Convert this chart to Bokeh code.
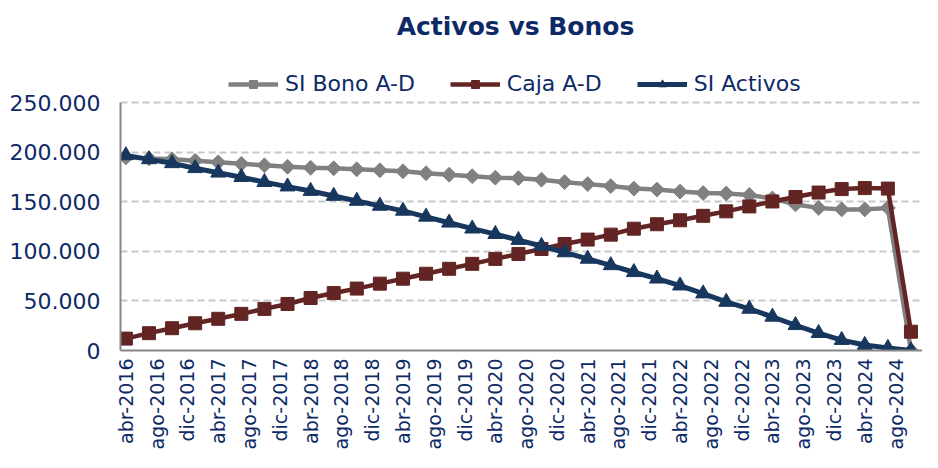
import math
from bokeh.plotting import figure
from bokeh.models import Range1d, FixedTicker, Legend, LegendItem, Label
from bokeh.embed import file_html
from bokeh.resources import INLINE

# ---------------- data ----------------
periodos = ["abr-2016", "jul-2016", "oct-2016",
            "ene-2017", "abr-2017", "jul-2017", "oct-2017",
            "ene-2018", "abr-2018", "jul-2018", "oct-2018",
            "ene-2019", "abr-2019", "jul-2019", "oct-2019",
            "ene-2020", "abr-2020", "jul-2020", "oct-2020",
            "ene-2021", "abr-2021", "jul-2021", "oct-2021",
            "ene-2022", "abr-2022", "jul-2022", "oct-2022",
            "ene-2023", "abr-2023", "jul-2023", "oct-2023",
            "ene-2024", "abr-2024", "jul-2024", "oct-2024"]

si_bono = [195000, 194000, 193000, 191500, 190000, 188500, 187000, 185500,
           184500, 184000, 183000, 182000, 181000, 179000, 177500, 176000,
           174500, 174000, 172500, 170000, 168000, 166000, 163500, 162500,
           160500, 159000, 158500, 157000, 153500, 147500, 144000, 142500,
           142500, 144000, 0]

caja = [12000, 17500, 22500, 27500, 32000, 37000, 42000, 47000,
        53000, 58000, 62500, 67500, 72500, 77500, 82500, 87500,
        92500, 97500, 102500, 107500, 112000, 117000, 123000, 127500,
        131500, 136000, 140500, 145500, 150500, 155000, 159500, 163000,
        164000, 163500, 19000]

si_activos = [197000, 193000, 189000, 184000, 179500, 175000, 170000, 165500,
              161000, 156000, 151000, 146000, 141000, 135000, 129000, 123000,
              117500, 111500, 105500, 99000, 92500, 86000, 79000, 72500,
              65500, 57500, 49000, 42000, 34000, 25500, 17500, 10500,
              5500, 2500, 0]

x_tick_labels = ["abr-2016", "ago-2016", "dic-2016", "abr-2017", "ago-2017",
                 "dic-2017", "abr-2018", "ago-2018", "dic-2018", "abr-2019",
                 "ago-2019", "dic-2019", "abr-2020", "ago-2020", "dic-2020",
                 "abr-2021", "ago-2021", "dic-2021", "abr-2022", "ago-2022",
                 "dic-2022", "abr-2023", "ago-2023", "dic-2023", "abr-2024",
                 "ago-2024"]

y_ticks = [0, 50000, 100000, 150000, 200000, 250000]
y_tick_labels = ["0", "50.000", "100.000", "150.000", "200.000", "250.000"]

series_names = ["SI Bono A-D", "Caja A-D", "SI Activos"]
chart_title = "Activos vs Bonos"

# ---------------- helpers ----------------
MESES = {"ene": 1, "feb": 2, "mar": 3, "abr": 4, "may": 5, "jun": 6,
         "jul": 7, "ago": 8, "sep": 9, "oct": 10, "nov": 11, "dic": 12}


def month_index(label):
    m, y = label.split("-")
    return (int(y) - 2016) * 12 + MESES[m] - 4


x = [month_index(s) for s in periodos]
x_ticks = [month_index(s) for s in x_tick_labels]

NAVY_TXT = "#0E2A66"
FONT = "DejaVu Sans"
GRAY = "#808080"
MAROON = "#632523"
NAVY = "#17375E"

# layout: frame spans from the top of the figure down to the x axis; the
# value area (0..250.000) occupies the lower 249 px of its 352 px.
FRAME_H = 352
PLOT_H = 249
Y_MAX = y_ticks[-1]
Y_TOP = Y_MAX * FRAME_H / PLOT_H

# ---------------- figure ----------------
p = figure(width=922, height=452, output_backend="svg", toolbar_location=None,
           x_range=Range1d(-0.7, 103.5), y_range=Range1d(0, Y_TOP),
           min_border_left=120, min_border_right=0,
           min_border_top=0, min_border_bottom=100)
p.outline_line_color = None
p.background_fill_color = "white"
p.border_fill_color = "white"

# axes
p.xaxis.ticker = FixedTicker(ticks=x_ticks)
p.xaxis.major_label_overrides = {t: l for t, l in zip(x_ticks, x_tick_labels)}
p.xaxis.major_label_orientation = math.pi / 2
p.yaxis.ticker = FixedTicker(ticks=y_ticks)
p.yaxis.major_label_overrides = {t: l for t, l in zip(y_ticks, y_tick_labels)}
p.yaxis.bounds = (0, Y_MAX)
for ax in (p.xaxis, p.yaxis):
    ax.axis_line_color = "#868686"
    ax.axis_line_width = 2
    ax.major_tick_line_color = None
    ax.minor_tick_line_color = None
    ax.major_tick_out = 0
    ax.major_tick_in = 0
    ax.major_label_text_font = FONT
    ax.major_label_text_color = NAVY_TXT
p.yaxis.major_label_text_font_size = "22px"
p.xaxis.major_label_text_font_size = "19px"
p.yaxis.major_label_standoff = 20
p.xaxis.major_label_standoff = 8

p.xgrid.grid_line_color = None
p.ygrid.grid_line_color = "#C8C8C8"
p.ygrid.grid_line_dash = "7 4"
p.ygrid.grid_line_width = 2

# series
lg = p.line(x, si_bono, line_color=GRAY, line_width=4.5)
sg = p.scatter(x, si_bono, marker="square", angle=math.pi / 4, size=10.5,
               fill_color=GRAY, line_color=GRAY)
lm = p.line(x, caja, line_color=MAROON, line_width=4.5)
sm = p.scatter(x, caja, marker="square", size=13,
               fill_color=MAROON, line_color=MAROON)
ln = p.line(x, si_activos, line_color=NAVY, line_width=5)
sn = p.scatter(x, si_activos, marker="triangle", size=15,
               fill_color=NAVY, line_color=NAVY)

legend = Legend(items=[LegendItem(label=series_names[0], renderers=[lg, sg]),
                       LegendItem(label=series_names[1], renderers=[lm, sm]),
                       LegendItem(label=series_names[2], renderers=[ln, sn])],
                orientation="horizontal", location=(108, 254))
legend.label_text_font = FONT
legend.label_text_font_size = "22px"
legend.label_text_color = NAVY_TXT
legend.glyph_width = 50
legend.glyph_height = 20
legend.spacing = 35
legend.label_standoff = 7
legend.padding = 4
legend.margin = 0
legend.border_line_color = None
legend.background_fill_alpha = 0
p.add_layout(legend, "center")

title = Label(x=395, y=324, x_units="screen", y_units="screen",
              text=chart_title, text_align="center", text_baseline="middle",
              text_font=FONT, text_font_size="25px", text_font_style="bold",
              text_color=NAVY_TXT)
p.add_layout(title)

open("out.html", "w").write(file_html(p, INLINE))
